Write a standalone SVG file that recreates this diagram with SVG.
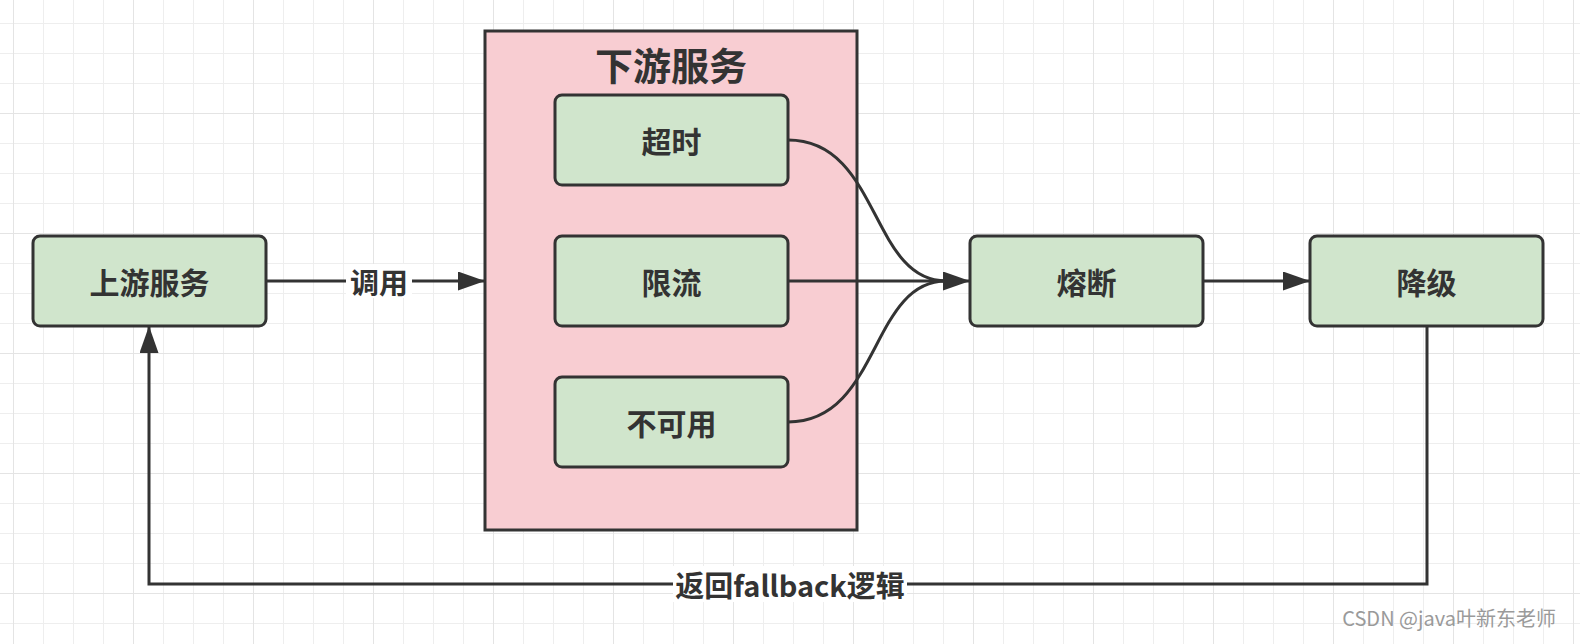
<svg xmlns="http://www.w3.org/2000/svg" width="1580" height="644" viewBox="0 0 1580 644">
<defs>
<pattern id="minor" x="13" y="23" width="30" height="30" patternUnits="userSpaceOnUse">
<path d="M0 0V30M0 0H30" fill="none" stroke="#eeeeee" stroke-width="2"/>
</pattern>
<pattern id="major" x="13" y="113" width="120" height="120" patternUnits="userSpaceOnUse">
<path d="M0 0V120M0 0H120" fill="none" stroke="#e4e4e4" stroke-width="2"/>
</pattern>
<marker id="arr" viewBox="0 0 27 19" refX="26" refY="9.5" markerWidth="27" markerHeight="19" markerUnits="userSpaceOnUse" orient="auto">
<path d="M0 0L27 9.5L0 19Z" fill="#333333"/>
</marker>
<style>
.n{fill:#d0e5cc;stroke:#333333;stroke-width:3}
.t{font-family:"Noto Sans CJK SC","Noto Sans",sans-serif;font-weight:bold;fill:#333333;text-anchor:middle;dominant-baseline:central}
.c{fill:none;stroke:#333333;stroke-width:3}
</style>
</defs>
<rect width="1580" height="644" fill="#ffffff"/>
<rect width="1580" height="644" fill="url(#minor)"/>
<rect width="1580" height="644" fill="url(#major)"/>

<g id="downstream">
<rect x="485" y="31" width="372" height="499" fill="#f8cdd2" stroke="#333333" stroke-width="3"/>
<text class="t" x="671" y="63" font-size="38">下游服务</text>
</g>
<g id="upstream">
<rect class="n" x="33" y="236" width="233" height="90" rx="7"/>
<text class="t" x="149.5" y="281" font-size="30">上游服务</text>
</g>
<g id="timeout">
<rect class="n" x="555" y="95" width="233" height="90" rx="7"/>
<text class="t" x="671.5" y="140" font-size="30">超时</text>
</g>
<g id="ratelimit">
<rect class="n" x="555" y="236" width="233" height="90" rx="7"/>
<text class="t" x="671.5" y="281" font-size="30">限流</text>
</g>
<g id="unavailable">
<rect class="n" x="555" y="377" width="233" height="90" rx="7"/>
<text class="t" x="671.5" y="422" font-size="30">不可用</text>
</g>
<g id="breaker">
<rect class="n" x="970" y="236" width="233" height="90" rx="7"/>
<text class="t" x="1086.5" y="281" font-size="30">熔断</text>
</g>
<g id="degrade">
<rect class="n" x="1310" y="236" width="233" height="90" rx="7"/>
<text class="t" x="1426.5" y="281" font-size="30">降级</text>
</g>

<g id="connectors">
<path class="c" d="M266 281H484" marker-end="url(#arr)"/>
<rect x="346" y="264" width="66" height="34" fill="#ffffff"/>
<text class="t" x="379" y="281" font-size="29">调用</text>
<path class="c" d="M788 140C880 140 870 281 946 281"/>
<path class="c" d="M788 422C880 422 870 281 946 281"/>
<path class="c" d="M788 281H969" marker-end="url(#arr)"/>
<path class="c" d="M1203 281H1309" marker-end="url(#arr)"/>
<path class="c" d="M1427 326V584H149V327" marker-end="url(#arr)"/>
<rect x="673" y="566" width="234" height="36" fill="#ffffff"/>
<text class="t" x="790" y="584" font-size="29">返回fallback逻辑</text>
</g>
<text x="1556" y="617" font-family="&quot;Noto Sans CJK SC&quot;,&quot;Noto Sans&quot;,sans-serif" font-size="20" fill="#9a9a9a" text-anchor="end" dominant-baseline="central">CSDN @java叶新东老师</text>
</svg>
